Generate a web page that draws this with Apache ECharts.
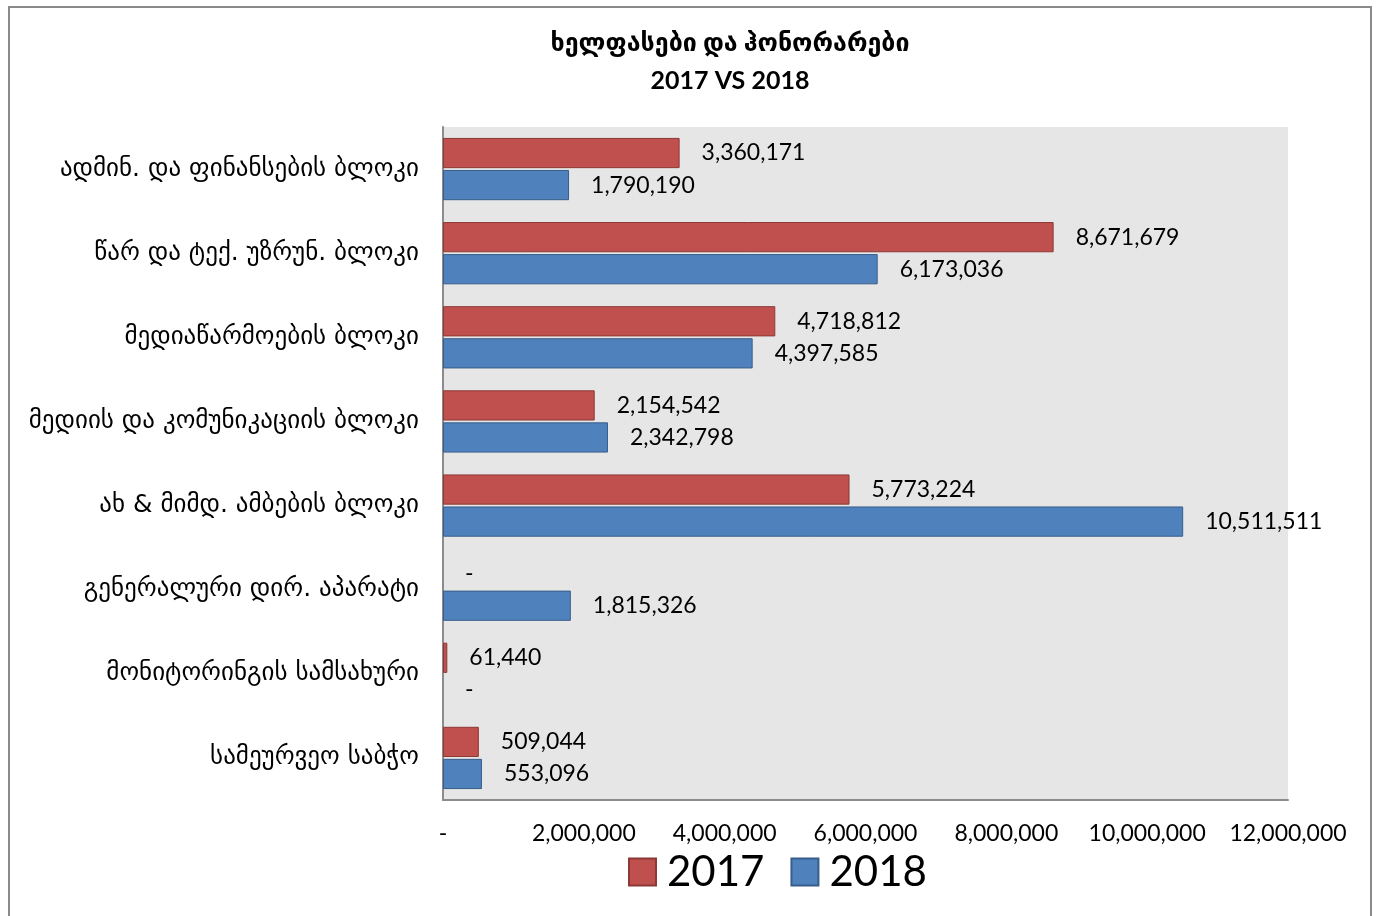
<!DOCTYPE html>
<html>
<head>
<meta charset="utf-8">
<script src="https://cdn.jsdelivr.net/npm/echarts@6/dist/echarts.min.js"></script>
<style>
  html, body { margin: 0; padding: 0; background: #fff; }
  #frame { position: absolute; left: 8px; top: 6px; width: 1364px; height: 920px; border: 2px solid #8a8a8a; box-sizing: border-box; }
  #chart { position: absolute; left: 0; top: 0; width: 1381px; height: 916px; }
</style>
</head>
<body>
<div id="frame"></div>
<div id="chart"></div>
<script>
  // კატეგორიები (ზემოდან ქვემოთ)
  var categories = [
    'ადმინ. და ფინანსების ბლოკი',
    'წარ და ტექ. უზრუნ. ბლოკი',
    'მედიაწარმოების ბლოკი',
    'მედიის და კომუნიკაციის ბლოკი',
    'ახ & მიმდ. ამბების ბლოკი',
    'გენერალური დირ. აპარატი',
    'მონიტორინგის სამსახური',
    'სამეურვეო საბჭო'
  ];
  var values2017 = [3360171, 8671679, 4718812, 2154542, 5773224, 0, 61440, 509044];
  var values2018 = [1790190, 6173036, 4397585, 2342798, 10511511, 1815326, 0, 553096];
  var axisMax = 12000000;
  var axisStep = 2000000;

  var numFmt = function (v) {
    return v === 0 ? '-' : Math.round(v).toLocaleString('en-US');
  };
  // zero bars get no border so no sliver shows
  var toItems = function (arr) {
    return arr.map(function (v) {
      return v === 0 ? { value: v, itemStyle: { borderWidth: 0 } } : v;
    });
  };

  var latin = 'Lato, "DejaVu Sans", sans-serif';
  var chart = echarts.init(document.getElementById('chart'));

  var barLabel = {
    show: true, position: 'right', distance: 22,
    formatter: function (p) { return numFmt(p.value); },
    fontFamily: latin, fontSize: 23, color: '#000'
  };

  chart.setOption({
    animation: false,
    title: {
      text: 'ხელფასები და ჰონორარები\n2017 VS 2018',
      left: 725,
      textAlign: 'center',
      top: 19,
      textStyle: { fontFamily: latin, fontSize: 25, fontWeight: 'bold', color: '#000', lineHeight: 38 }
    },
    legend: {
      top: 846,
      left: 623,
      icon: 'rect',
      itemWidth: 27,
      itemHeight: 27,
      itemGap: 26,
      textStyle: { fontFamily: latin, fontSize: 42, color: '#000', padding: [0, 0, 0, 6] },
      data: ['2017', '2018']
    },
    grid: {
      left: 443, right: 93, top: 127, bottom: 116,
      show: true, backgroundColor: '#e6e6e6', borderWidth: 0
    },
    xAxis: {
      type: 'value',
      min: 0, max: axisMax, interval: axisStep,
      axisLine: { show: true, lineStyle: { color: '#8c8c8c', width: 2 } },
      axisTick: { show: false },
      splitLine: { show: false },
      axisLabel: { formatter: numFmt, fontFamily: latin, fontSize: 23, color: '#000', margin: 22 }
    },
    yAxis: {
      type: 'category',
      inverse: true,
      data: categories,
      axisLine: { show: true, lineStyle: { color: '#8c8c8c', width: 2 } },
      axisTick: { show: false },
      axisLabel: { fontFamily: '"DejaVu Sans", sans-serif', fontSize: 25, color: '#000', margin: 24 }
    },
    series: [
      {
        name: '2017',
        type: 'bar',
        data: toItems(values2017),
        barGap: '6%',
        barCategoryGap: '26%',
        itemStyle: { color: '#c0504d', borderColor: '#8c3836', borderWidth: 1 },
        label: barLabel
      },
      {
        name: '2018',
        type: 'bar',
        data: toItems(values2018),
        barGap: '6%',
        barCategoryGap: '26%',
        itemStyle: { color: '#4f81bd', borderColor: '#385d8a', borderWidth: 1 },
        label: barLabel
      }
    ]
  });
</script>
</body>
</html>
